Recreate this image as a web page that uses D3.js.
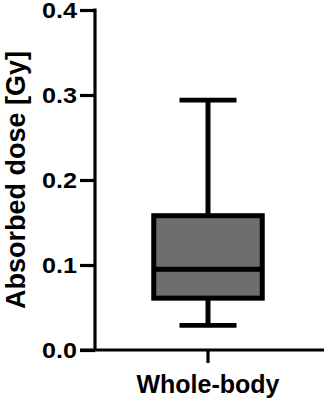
<!DOCTYPE html>
<html><head><meta charset="utf-8">
<script src="https://cdn.jsdelivr.net/npm/d3@7"></script>
<style>
html,body{margin:0;padding:0;background:#fff;}
svg{display:block;}
text{font-family:"Liberation Sans",Arial,sans-serif;font-weight:bold;fill:#000;}
</style></head>
<body><div id="chart"></div>
<script>
const categories = ["Whole-body"];
const whiskerLow = [0.029];
const q1 = [0.061];
const median = [0.095];
const q3 = [0.158];
const whiskerHigh = [0.294];
const yTicks = [0.0, 0.1, 0.2, 0.3, 0.4];
const yLabel = "Absorbed dose [Gy]";

const W = 324, H = 398;
const svg = d3.select("#chart").append("svg").attr("width", W).attr("height", H);

const y = d3.scaleLinear().domain([0, 0.4]).range([350, 10]);
const x = d3.scaleBand().domain(categories).range([95, 321]);

const data = categories.map((c, i) => ({c, lo: whiskerLow[i], q1: q1[i], med: median[i], q3: q3[i], hi: whiskerHigh[i]}));

// Y axis
const yAx = svg.append("g").attr("transform", "translate(95,0)")
  .call(d3.axisLeft(y).tickValues(yTicks).tickFormat(d3.format(".1f")).tickSize(15).tickSizeOuter(0).tickPadding(3));
yAx.select(".domain").attr("stroke", "#000").attr("stroke-width", 3.2)
  .attr("d", `M0,${y(0.4) - 1.6}V${y(0)}`);
yAx.selectAll(".tick line").attr("stroke", "#000").attr("stroke-width", 3.2);
yAx.selectAll(".tick text").style("font-size", "22px").attr("fill", "#000").attr("dy", "0.36em")
  .attr("textLength", 35).attr("lengthAdjust", "spacingAndGlyphs");

// X axis
const xAx = svg.append("g").attr("transform", `translate(0,${y(0)})`)
  .call(d3.axisBottom(x).tickSize(13).tickSizeOuter(0).tickPadding(6));
xAx.select(".domain").attr("stroke", "#000").attr("stroke-width", 3.2).attr("d", "M80,0H324");
xAx.selectAll(".tick line").attr("stroke", "#000").attr("stroke-width", 3.2);
xAx.selectAll(".tick text").style("font-size", "25px").attr("fill", "#000").attr("dy", "0.95em");

// Y label
svg.append("text")
  .attr("transform", `translate(25,${(y(0) + y(0.4)) / 2 + 0}) rotate(-90)`)
  .attr("text-anchor", "middle")
  .style("font-size", "27px")
  .text(yLabel);

// Boxes
const bw = x.bandwidth() * 0.48;
const cw = 57;
const g = svg.append("g");
data.forEach(d => {
  const cx = x(d.c) + x.bandwidth() / 2;
  g.append("line").attr("x1", cx).attr("x2", cx).attr("y1", y(d.hi)).attr("y2", y(d.q3))
    .attr("stroke", "#000").attr("stroke-width", 5);
  g.append("line").attr("x1", cx).attr("x2", cx).attr("y1", y(d.q1)).attr("y2", y(d.lo))
    .attr("stroke", "#000").attr("stroke-width", 5);
  g.append("line").attr("x1", cx - cw / 2).attr("x2", cx + cw / 2).attr("y1", y(d.hi)).attr("y2", y(d.hi))
    .attr("stroke", "#000").attr("stroke-width", 4.8);
  g.append("line").attr("x1", cx - cw / 2).attr("x2", cx + cw / 2).attr("y1", y(d.lo)).attr("y2", y(d.lo))
    .attr("stroke", "#000").attr("stroke-width", 4.8);
  g.append("rect").attr("x", cx - bw / 2).attr("width", bw)
    .attr("y", y(d.q3)).attr("height", y(d.q1) - y(d.q3))
    .attr("fill", "#6e6e6e").attr("stroke", "#000").attr("stroke-width", 5);
  g.append("line").attr("x1", cx - bw / 2).attr("x2", cx + bw / 2).attr("y1", y(d.med)).attr("y2", y(d.med))
    .attr("stroke", "#000").attr("stroke-width", 5);
});
</script></body></html>
